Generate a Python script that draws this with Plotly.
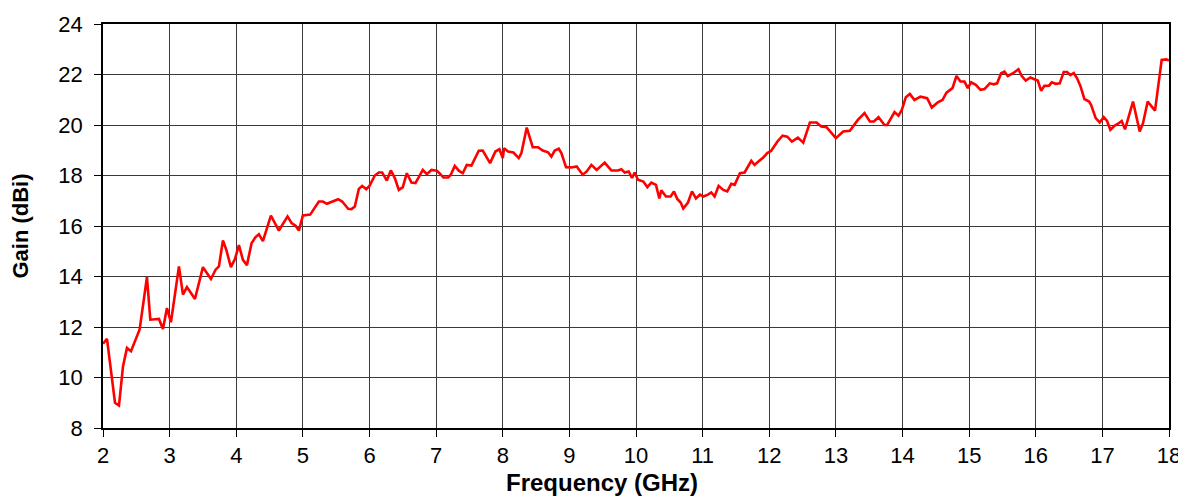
import plotly.graph_objects as go

freq_ghz = [
    2.00, 2.06, 2.18, 2.24, 2.30, 2.36, 2.42, 2.55, 2.66, 2.71, 2.84, 2.90, 2.96, 3.02,
    3.14, 3.20, 3.26, 3.38, 3.50, 3.62, 3.69, 3.74, 3.80, 3.85, 3.92, 3.98, 4.04, 4.10,
    4.16, 4.23, 4.29, 4.34, 4.40, 4.52, 4.64, 4.77, 4.83, 4.89, 4.94, 5.00, 5.11, 5.24,
    5.30, 5.36, 5.53, 5.59, 5.68, 5.73, 5.78, 5.84, 5.89, 5.95, 6.00, 6.08, 6.14, 6.19,
    6.26, 6.32, 6.38, 6.44, 6.50, 6.56, 6.63, 6.69, 6.80, 6.86, 6.93, 7.01, 7.05, 7.11,
    7.18, 7.22, 7.28, 7.34, 7.40, 7.46, 7.53, 7.64, 7.70, 7.81, 7.89, 7.95, 8.00, 8.02,
    8.08, 8.16, 8.24, 8.28, 8.36, 8.45, 8.53, 8.60, 8.68, 8.73, 8.78, 8.84, 8.88, 8.95,
    9.03, 9.11, 9.20, 9.26, 9.33, 9.41, 9.53, 9.63, 9.73, 9.78, 9.83, 9.89, 9.94, 9.98,
    10.03, 10.11, 10.17, 10.23, 10.30, 10.35, 10.38, 10.45, 10.52, 10.57, 10.62, 10.67,
    10.71, 10.78, 10.84, 10.90, 10.96, 11.01, 11.08, 11.13, 11.18, 11.24, 11.31, 11.37,
    11.43, 11.48, 11.56, 11.63, 11.73, 11.78, 11.85, 11.91, 11.97, 12.03, 12.12, 12.20,
    12.27, 12.34, 12.43, 12.51, 12.61, 12.71, 12.78, 12.86, 13.00, 13.11, 13.21, 13.33,
    13.43, 13.51, 13.57, 13.64, 13.73, 13.77, 13.88, 13.94, 13.99, 14.05, 14.11, 14.18,
    14.27, 14.37, 14.44, 14.53, 14.60, 14.66, 14.75, 14.81, 14.87, 14.93, 14.98, 15.03,
    15.10, 15.17, 15.23, 15.31, 15.37, 15.42, 15.48, 15.53, 15.58, 15.66, 15.74, 15.79,
    15.85, 15.92, 15.98, 16.03, 16.08, 16.13, 16.20, 16.24, 16.30, 16.36, 16.42, 16.47,
    16.52, 16.57, 16.62, 16.67, 16.73, 16.80, 16.83, 16.90, 16.96, 17.02, 17.07, 17.12,
    17.18, 17.23, 17.29, 17.34, 17.46, 17.56, 17.61, 17.68, 17.79, 17.89, 17.96, 18.00,
]

gain_dbi = [
    11.34, 11.53, 9.00, 8.89, 10.44, 11.17, 11.04, 11.90, 13.98, 12.29, 12.32, 11.92, 12.75, 12.19,
    14.40, 13.28, 13.58, 13.11, 14.37, 13.90, 14.27, 14.40, 15.43, 15.06, 14.37, 14.69, 15.24, 14.66,
    14.45, 15.32, 15.56, 15.67, 15.40, 16.41, 15.82, 16.38, 16.12, 16.01, 15.82, 16.42, 16.45, 16.97,
    16.97, 16.88, 17.06, 16.97, 16.68, 16.67, 16.77, 17.47, 17.59, 17.46, 17.59, 18.00, 18.12, 18.12,
    17.80, 18.20, 17.90, 17.43, 17.54, 18.09, 17.72, 17.70, 18.22, 18.05, 18.22, 18.19, 18.09, 17.92,
    17.92, 18.03, 18.38, 18.19, 18.09, 18.42, 18.39, 18.98, 18.99, 18.49, 18.95, 19.04, 18.69, 19.08,
    18.95, 18.91, 18.69, 18.89, 19.90, 19.12, 19.12, 18.99, 18.92, 18.75, 18.99, 19.06, 18.89, 18.33,
    18.32, 18.36, 18.03, 18.16, 18.42, 18.22, 18.51, 18.20, 18.20, 18.25, 18.12, 18.16, 17.90, 18.12,
    17.83, 17.76, 17.54, 17.72, 17.63, 17.09, 17.41, 17.17, 17.17, 17.37, 17.07, 16.93,
    16.69, 16.93, 17.37, 17.09, 17.24, 17.17, 17.24, 17.33, 17.17, 17.59, 17.43, 17.37,
    17.67, 17.63, 18.09, 18.12, 18.58, 18.42, 18.58, 18.71, 18.89, 18.98, 19.34, 19.58,
    19.54, 19.34, 19.50, 19.30, 20.10, 20.10, 19.94, 19.91, 19.48, 19.74, 19.77, 20.20,
    20.47, 20.14, 20.14, 20.31, 20.00, 20.00, 20.51, 20.37, 20.60, 21.10, 21.23, 20.99,
    21.12, 21.06, 20.69, 20.90, 20.99, 21.28, 21.46, 21.94, 21.72, 21.72, 21.46, 21.69,
    21.59, 21.39, 21.42, 21.65, 21.61, 21.65, 22.05, 22.11, 21.94, 22.05, 22.21, 21.94,
    21.76, 21.88, 21.81, 21.76, 21.36, 21.55, 21.56, 21.69, 21.63, 21.65, 22.10, 22.10,
    21.98, 22.06, 21.85, 21.55, 21.03, 20.93, 20.80, 20.27, 20.10, 20.31, 20.16, 19.81,
    19.97, 20.04, 20.16, 19.83, 20.93, 19.74, 20.07, 20.93, 20.57, 22.58, 22.60, 22.55,
]

x_title = "Frequency (GHz)"
y_title = "Gain (dBi)"

FONT = "Liberation Sans, Arial, sans-serif"

fig = go.Figure()
fig.add_trace(go.Scatter(
    x=freq_ghz, y=gain_dbi, mode="lines",
    line=dict(color="#ff0000", width=2.6),
    showlegend=False, hoverinfo="skip",
))

axis_common = dict(
    showgrid=True, gridcolor="#3a3a3a", gridwidth=1,
    showline=True, linecolor="#000000", linewidth=1.5, mirror=True,
    ticks="outside", ticklen=7, tickcolor="#000000", tickwidth=1,
    zeroline=False, automargin=False,
    tickfont=dict(family=FONT, size=22, color="#000000"),
)

# the page body has an 8px margin, so the figure is sized to fit the 1186x498 window
fig.update_layout(
    width=1178, height=490,
    margin=dict(l=95, r=17, t=16, b=70),
    paper_bgcolor="#ffffff", plot_bgcolor="#ffffff",
    xaxis=dict(range=[2, 18], dtick=1, tick0=2, **axis_common),
    yaxis=dict(
        range=[8, 24], dtick=2, tick0=8, ticklabelstandoff=7, **axis_common,
        title=dict(text=y_title, standoff=28,
                   font=dict(family=FONT, size=22, color="#000000", weight="bold")),
    ),
    annotations=[dict(
        text="<b>" + x_title + "</b>", showarrow=False,
        xref="paper", yref="paper", x=0.468, y=0,
        xanchor="center", yanchor="top", yshift=-39,
        font=dict(family=FONT, size=24, color="#000000"),
    )],
)

fig.write_html("out.html")
